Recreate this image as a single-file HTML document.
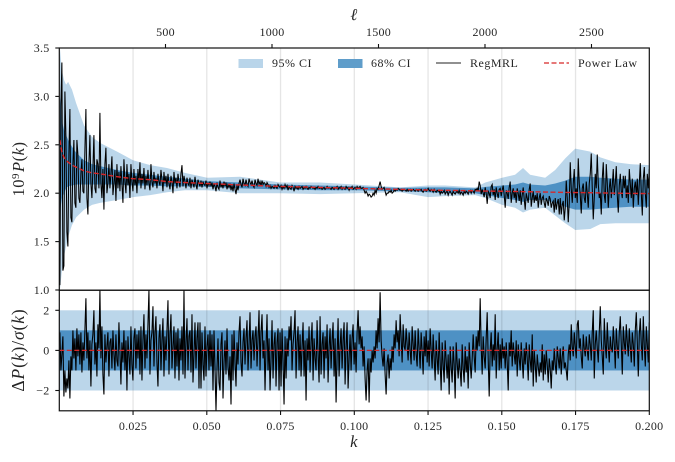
<!DOCTYPE html>
<html lang="en">
<head>
<meta charset="utf-8">
<title>Primordial power spectrum reconstruction</title>
<style>
html,body{margin:0;padding:0;background:#fff;}
svg{display:block;}
text{font-family:"Liberation Serif","DejaVu Serif",serif;fill:#262626;}
.tk{font-size:12px;letter-spacing:.25px;}
.lg{font-size:12px;letter-spacing:.5px;}
.ax{font-size:16.5px;letter-spacing:.5px;}
.ax2{font-size:17.5px;letter-spacing:.9px;}
.it{font-style:italic;}
</style>
</head>
<body>
<svg id="chart" width="675" height="462" viewBox="0 0 675 462" xmlns="http://www.w3.org/2000/svg">
  <defs>
    <clipPath id="clip-top"><rect x="59.3" y="48" width="590" height="242"></rect></clipPath>
    <clipPath id="clip-bot"><rect x="59.3" y="290.3" width="590" height="120.2"></rect></clipPath>
  </defs>
  <g id="top-panel" clip-path="url(#clip-top)"></g>
  <g id="bot-panel" clip-path="url(#clip-bot)"></g>
  <g id="axes"></g>

  <g>
    <rect x="238.5" y="59" width="24.5" height="9" fill="#b9d5ea"></rect>
    <text class="lg" x="272" y="67">95% CI</text>
    <rect x="338" y="59" width="24.5" height="9" fill="#5f9dca"></rect>
    <text class="lg" x="371" y="67">68% CI</text>
    <line x1="436" y1="63" x2="461" y2="63" stroke="#222" stroke-width="1"></line>
    <text class="lg" x="470" y="67">RegMRL</text>
    <line x1="544" y1="63" x2="569" y2="63" stroke="#d62728" stroke-width="1.3" stroke-dasharray="5 2.5"></line>
    <text class="lg" x="578" y="67">Power Law</text>
  </g>

  <text class="ax it" x="354" y="20" text-anchor="middle">ℓ</text>
  <text class="ax it" x="354" y="447" text-anchor="middle">k</text>
  <text class="ax" transform="translate(24,169) rotate(-90)" text-anchor="middle">10<tspan font-size="11" dy="-5">9</tspan><tspan class="it" dy="5" dx="1">P</tspan>(<tspan class="it">k</tspan>)</text>
  <text class="ax2" transform="translate(24,350) rotate(-90)" text-anchor="middle">Δ<tspan class="it">P</tspan>(<tspan class="it">k</tspan>)/<tspan class="it">σ</tspan>(<tspan class="it">k</tspan>)</text>
</svg>

<script>
// Tick labels
const kTicks = [0.025, 0.050, 0.075, 0.100, 0.125, 0.150, 0.175, 0.200];
const ellTicks = [500, 1000, 1500, 2000, 2500];
const powerTicks = [1.0, 1.5, 2.0, 2.5, 3.0, 3.5];
const residualTicks = [-2, 0, 2];

// Confidence bands
const bandK = [0.0002,0.0009,0.0016,0.0023,0.0030,0.0043,0.0057,0.0084,0.0111,0.0138,0.0196,0.0250,0.0308,0.0365,0.0426,0.0501,0.0613,0.0749,0.0884,0.1003,0.1155,0.1250,0.1308,0.1410,0.1444,0.1501,0.1545,0.1572,0.1596,0.1647,0.1681,0.1715,0.1749,0.1800,0.1834,0.1885,0.1936,0.2000];
const upper95 = [3.5,3.27,3.17,3.12,3.15,3.07,2.93,2.70,2.58,2.52,2.43,2.34,2.29,2.26,2.21,2.16,2.17,2.11,2.11,2.09,2.06,2.08,2.08,2.06,2.11,2.16,2.19,2.26,2.19,2.16,2.24,2.36,2.46,2.43,2.37,2.32,2.30,2.29];
const lower95 = [1.0,1.2,1.35,1.45,1.55,1.67,1.75,1.83,1.88,1.90,1.93,1.96,1.98,2.01,2.03,2.03,2.0,2.0,1.99,2.0,2.01,1.96,1.97,1.98,1.95,1.88,1.85,1.80,1.83,1.85,1.77,1.69,1.62,1.63,1.68,1.69,1.69,1.69];
const upper68 = [3.0,2.75,2.65,2.6,2.55,2.48,2.42,2.34,2.3,2.28,2.24,2.21,2.19,2.17,2.15,2.125,2.11,2.09,2.08,2.07,2.055,2.06,2.06,2.05,2.065,2.08,2.09,2.11,2.09,2.08,2.1,2.13,2.17,2.17,2.16,2.15,2.14,2.14];
const lower68 = [1.8,1.95,2.0,2.05,2.07,2.08,2.09,2.09,2.09,2.09,2.09,2.08,2.08,2.07,2.07,2.065,2.05,2.04,2.03,2.03,2.02,2.01,2.0,2.0,1.98,1.95,1.93,1.91,1.93,1.93,1.9,1.86,1.83,1.83,1.84,1.85,1.86,1.86];
const powerLaw = [2.55,2.42,2.37,2.34,2.32,2.29,2.27,2.23,2.21,2.20,2.17,2.15,2.14,2.12,2.11,2.10,2.085,2.07,2.06,2.05,2.04,2.033,2.03,2.025,2.022,2.02,2.018,2.016,2.015,2.012,2.01,2.008,2.007,2.005,2.003,2.0,1.998,1.996];

// Residual reference lines and band limits
const residualBandOuter = 2;
const residualBandInner = 1;
const residualZero = 0;

// Evenly sampled k range for both reconstructed series
const kFirst = 0.0002;
const kLast = 0.2;

// RegMRL reconstructed spectrum
const regmrl = [
1.05,2.9,3.35,1.2,1.25,3.05,2.6,1.6,1.45,2.4,2.87,1.75,1.7,2.3,2.55,1.9,1.85,2.55,2.4,1.95,
1.9,2.2,2.35,2.02,2.0,2.45,2.87,1.95,1.78,2.3,2.6,2.1,1.95,2.25,2.6,2.05,2.0,2.35,2.3,2.05,
2.83,2.1,1.95,2.25,1.83,2.3,2.47,2.0,2.1,2.3,2.05,2.2,2.38,1.98,2.1,2.24,1.92,2.3,2.05,2.22,
2.02,2.28,2.1,1.9,2.35,2.12,2.0,2.3,2.08,2.2,1.95,2.3,2.12,2.02,2.25,2.08,2.18,2.0,2.25,2.1,
2.32,2.05,2.2,2.1,2.26,2.04,2.18,2.08,2.24,2.1,2.03,2.3,2.12,2.06,2.22,2.1,2.16,2.05,2.2,2.12,
2.08,2.24,2.14,2.02,2.22,2.1,2.18,2.06,2.2,2.1,2.04,2.18,2.12,2.0,2.22,2.1,2.16,2.05,2.2,2.12,
2.06,2.2,2.29,2.07,2.18,2.12,2.05,2.16,2.1,2.08,2.16,2.05,2.14,2.1,2.06,2.17,2.09,2.04,2.14,2.1,
2.07,2.13,2.06,2.12,2.09,2.08,2.13,2.05,2.11,2.08,2.12,2.07,2.11,2.04,2.1,2.07,2.02,2.11,2.06,2.04,
2.13,2.06,2.1,2.05,2.12,2.07,2.11,2.04,2.09,2.06,2.1,2.03,2.08,2.02,2.1,2.04,1.99,2.08,2.03,2.1,
2.14,2.09,2.06,2.15,2.1,2.08,2.14,2.09,2.07,2.15,2.11,2.09,2.13,2.08,2.06,2.14,2.1,2.08,2.15,2.09,
2.12,2.08,2.13,2.09,2.11,2.1,2.07,2.11,2.09,2.06,2.08,2.05,2.07,2.06,2.05,2.08,2.06,2.05,2.09,2.07,
2.06,2.08,2.04,2.07,2.05,2.09,2.06,2.08,2.03,2.07,2.05,2.04,2.08,2.06,2.02,2.07,2.05,2.06,2.04,2.07,
2.05,2.06,2.07,2.04,2.06,2.05,2.07,2.05,2.04,2.06,2.05,2.07,2.06,2.05,2.06,2.04,2.06,2.05,2.07,2.05,
2.05,2.06,2.04,2.05,2.06,2.04,2.05,2.07,2.05,2.06,2.05,2.04,2.06,2.05,2.04,2.06,2.05,2.07,2.04,2.06,
2.05,2.07,2.04,2.06,2.05,2.04,2.07,2.05,2.06,2.03,2.06,2.05,2.07,2.04,2.05,2.06,2.04,2.07,2.05,2.06,
2.07,2.05,2.05,2.06,2.03,2.0,2.02,2.0,1.97,1.99,1.98,1.96,1.97,2.0,1.98,2.03,2.0,2.05,2.04,2.08,
2.12,2.07,2.04,2.05,2.06,2.02,1.98,2.0,2.0,2.02,2.01,2.03,2.0,2.01,2.03,2.02,2.04,2.03,2.05,2.04,
2.03,2.04,2.02,2.03,2.04,2.03,2.02,2.04,2.02,2.03,2.04,2.02,2.03,2.04,2.03,2.02,2.04,2.03,2.02,2.04,
2.03,2.04,2.02,2.01,2.03,2.04,2.02,2.03,2.05,2.03,2.02,2.04,2.03,2.01,2.04,2.02,2.01,2.03,2.02,2.03,
1.99,2.02,2.0,2.01,2.03,1.99,2.01,2.02,1.98,2.01,2.02,2.0,1.98,2.02,2.0,1.99,2.01,2.02,2.0,2.03,
1.99,2.01,2.0,1.98,2.02,2.0,2.02,2.01,1.99,2.02,2.03,2.0,2.03,2.02,2.0,2.04,2.03,2.05,2.02,2.12,
2.08,1.99,2.04,2.0,1.96,2.06,2.0,1.89,2.02,2.0,1.95,2.07,2.09,1.98,2.04,1.93,2.06,2.0,1.95,2.04,
2.05,1.97,2.03,2.08,1.98,1.85,2.03,2.0,1.94,2.06,2.12,1.9,2.0,2.05,1.95,2.02,1.9,2.05,2.0,1.92,
2.03,1.88,1.98,2.06,1.94,1.83,2.0,1.95,1.9,2.04,2.1,1.86,1.95,2.02,1.9,1.98,1.92,2.0,1.85,1.95,
2.0,1.88,1.95,1.97,1.9,1.85,1.95,1.92,1.87,1.97,1.94,1.85,1.9,1.92,1.8,1.95,1.83,1.9,1.94,1.78,
1.95,1.78,1.88,1.92,1.72,1.85,2.13,1.95,1.7,1.9,2.32,2.05,1.9,2.1,2.25,1.95,2.05,1.9,2.36,2.1,
1.98,1.79,2.05,2.1,1.95,1.9,2.12,2.0,1.85,2.1,2.2,2.41,2.05,1.73,1.95,2.2,2.05,2.4,2.1,1.95,
2.0,1.78,2.15,2.32,1.98,1.9,2.3,2.1,1.85,2.05,2.15,1.95,2.08,2.25,1.98,2.1,2.28,1.98,1.8,2.08,
2.2,2.02,1.95,2.18,2.05,2.18,1.95,2.08,1.9,2.25,2.1,1.95,2.15,1.85,2.05,2.12,1.98,2.15,1.88,2.1,
2.31,2.0,1.77,2.15,2.27,2.0,1.85,2.2,2.05,2.25
];

// Normalised residuals
const residuals = [
0.9,-1.0,-0.2,0.7,-2.3,-1.0,-2.1,-1.4,-1.9,-0.5,-2.4,-0.3,-1.0,1.0,-0.4,0.6,-1.0,1.1,-0.3,0.8,
-0.7,0.9,-1.1,0.4,-0.5,1.0,2.6,-0.4,0.9,-1.0,0.5,-1.8,0.3,0.8,2.0,-0.7,0.4,-1.3,1.3,0.1,
3.0,-0.4,1.2,-1.2,-2.2,0.8,-0.6,0.2,0.9,-1.3,0.4,0.6,-0.9,1.0,-0.2,-1.0,0.8,-0.5,-0.8,1.4,
-0.1,-1.7,0.4,-0.6,1.0,-1.0,0.5,-2.0,0.7,-0.3,-1.2,1.2,-0.7,-1.5,0.6,1.1,-0.9,0.8,-0.4,1.0,
-1.2,1.2,-1.5,0.5,1.8,-0.9,0.8,-0.4,1.3,3.0,-1.2,0.5,0.9,2.2,-0.8,0.9,1.7,-0.6,-1.8,0.6,
1.3,-1.0,0.5,1.6,-1.3,0.7,-0.5,1.0,2.5,-1.2,0.8,1.8,-0.9,0.2,1.2,-1.4,0.9,-0.8,1.1,-1.5,
0.6,-0.5,1.2,-1.2,3.0,-1.4,0.4,1.6,-1.0,0.7,1.0,-1.1,1.8,-1.6,-0.2,1.4,-0.9,0.6,1.4,-1.9,
1.4,-1.9,0.9,-0.7,-1.5,1.2,-1.3,0.2,0.8,-1.0,1.0,-0.8,0.8,-2.0,1.0,-0.9,-3.0,-0.9,0.6,-1.6,
-2.0,0.3,0.9,-2.4,-0.6,0.5,-1.2,1.1,-0.8,-1.5,-0.3,-2.7,0.8,-1.5,1.0,-0.6,-1.8,0.4,-0.7,0.9,
1.7,-0.6,-1.3,0.4,1.1,-0.7,0.6,1.5,-1.0,0.3,1.9,-0.9,0.5,1.0,-0.5,0.7,1.2,-0.8,0.6,2.0,
-1.0,0.9,1.8,-0.4,0.5,-2.0,0.2,1.8,-1.0,0.6,-2.0,-0.4,1.5,-1.4,0.3,0.9,-1.8,0.4,1.1,-2.0,
0.9,-1.8,1.1,-0.6,-2.7,0.7,-1.4,0.6,-0.3,1.2,0.5,1.7,-1.0,0.3,0.9,2.0,-1.4,0.4,1.2,-1.0,
0.8,-1.3,0.2,1.4,-1.3,0.5,-2.5,0.6,-0.5,1.2,-1.1,0.4,1.4,-1.5,0.6,-0.4,-1.0,1.5,-0.2,-1.6,
1.7,-1.2,0.3,0.9,-1.4,0.7,-0.4,1.3,-1.6,0.2,1.1,-0.9,0.5,1.4,-1.3,0.6,-2.6,-0.3,1.6,-1.3,
0.2,1.1,-0.9,0.5,1.4,-1.7,0.2,1.4,-1.9,-0.4,0.8,-1.0,0.6,1.3,-0.7,0.4,-1.1,0.9,2.0,0.3,
1.2,0.1,0.7,-0.8,0.2,-1.4,-2.5,-1.0,-0.4,-2.6,-0.4,-1.1,0.0,-0.6,0.2,-0.4,1.0,0.1,1.6,0.4,
2.9,0.5,-0.3,-0.8,0.1,-1.2,-2.2,-0.6,-0.2,-1.4,-0.4,-1.0,0.2,-0.6,0.8,0.1,1.5,0.4,1.0,-0.3,
1.8,0.6,-0.6,1.3,0.2,0.0,1.1,0.3,-0.5,0.9,0.0,-0.7,1.2,0.3,-0.5,1.0,-0.2,-0.8,1.1,0.1,
-0.9,0.9,0.0,-1.2,0.7,-0.3,1.0,-0.6,0.5,-0.8,1.1,0.0,-0.9,0.8,-0.4,-1.5,0.5,-0.4,-1.2,0.9,
-0.6,-2.0,0.4,-0.7,-1.6,0.5,-0.5,-1.4,-0.2,-2.2,0.2,-0.8,-1.6,0.2,-0.7,-2.4,0.4,-0.6,-1.4,-0.4,
-1.0,-1.8,0.3,-0.9,-1.6,0.2,-1.1,-0.3,-1.9,0.4,-0.6,-1.4,-0.4,0.8,-0.3,-1.1,0.7,0.0,1.0,0.2,
2.6,0.2,-1.2,0.7,-0.3,-0.9,0.6,1.9,-0.4,-2.3,0.0,0.9,-0.8,0.3,-0.5,1.8,-1.4,0.1,0.9,-1.0,
0.3,-0.9,0.6,-0.4,0.2,-0.9,0.4,-0.6,-2.0,0.4,-0.3,1.0,-0.8,0.4,-0.2,-0.7,0.5,-1.3,0.3,-0.4,
-1.0,0.4,-0.5,-1.4,0.1,-0.7,0.4,-0.4,-1.5,0.3,-0.5,-1.1,0.8,-1.8,0.0,-0.7,-1.6,-0.2,-0.8,-1.3,
-0.6,-1.1,0.3,-1.5,-0.2,-1.2,0.0,-0.7,-1.6,-0.4,-0.9,-1.9,-0.5,-1.0,0.1,-0.7,-1.2,0.2,-0.4,-0.9,
0.1,-1.2,-0.3,0.2,-0.9,-0.6,-1.0,-1.5,-0.2,0.3,-0.5,1.3,0.2,-0.3,0.9,0.2,-0.4,1.3,1.5,0.1,
0.6,-0.3,-0.9,0.8,0.1,-0.3,0.7,0.0,-0.5,0.8,0.3,-0.5,0.9,2.0,-1.4,0.3,1.0,0.1,-0.6,0.9,
2.2,0.5,-0.3,-1.2,1.6,0.3,-0.4,1.4,0.2,-0.6,0.7,0.1,-0.1,1.2,0.3,-0.9,1.1,0.2,-0.4,0.9,
1.7,0.3,-1.2,1.2,0.4,-0.2,1.3,0.4,-0.3,1.1,0.2,-0.6,0.9,0.3,-0.8,1.0,1.9,0.4,-1.3,0.8,
1.6,0.3,-0.5,1.7,0.2,-0.8,1.2,0.3,-0.6,1.4
];

const NS = 'http://www.w3.org/2000/svg';
const x0 = 59.3, x1 = 649.3;

function xK(k) { return x0 + (k / 0.2) * (x1 - x0); }
function xEll(l) { return 59 + (l / 2770) * 590; }
function yTop(v) { return 48 + (3.5 - v) * (242 / 2.5); }
function yBot(v) { return 350.4 - v * 20.05; }

function make(tag, attrs, parent) {
  const el = document.createElementNS(NS, tag);
  for (const key in attrs) el.setAttribute(key, attrs[key]);
  parent.appendChild(el);
  return el;
}
function linePath(xs, ys, xf, yf) {
  return xs.map(function (x, i) { return (i ? 'L' : 'M') + xf(x).toFixed(2) + ' ' + yf(ys[i]).toFixed(2); }).join('');
}
function areaPath(xs, up, lo, xf, yf) {
  const a = xs.map(function (x, i) { return xf(x).toFixed(2) + ' ' + yf(up[i]).toFixed(2); });
  const b = xs.map(function (x, i) { return xf(x).toFixed(2) + ' ' + yf(lo[i]).toFixed(2); }).reverse();
  return 'M' + a.join('L') + 'L' + b.join('L') + 'Z';
}

const topPanel = document.getElementById('top-panel');
const botPanel = document.getElementById('bot-panel');
const axes = document.getElementById('axes');

const seriesK = regmrl.map(function (_, i) { return kFirst + i * (kLast - kFirst) / (regmrl.length - 1); });
const residualK = residuals.map(function (_, i) { return kFirst + i * (kLast - kFirst) / (residuals.length - 1); });

/* top panel */
const band95 = make('path', { d: areaPath(bandK, upper95, lower95, xK, yTop), fill: '#bbd6ea' }, topPanel);


const band68 = make('path', { d: areaPath(bandK, upper68, lower68, xK, yTop), fill: '#4e91c4' }, topPanel);



/* bottom panel bands */
const resBand95 = make('rect', { x: x0, y: yBot(residualBandOuter), width: x1 - x0, height: yBot(-residualBandOuter) - yBot(residualBandOuter), fill: '#bbd6ea' }, botPanel);


const resBand68 = make('rect', { x: x0, y: yBot(residualBandInner), width: x1 - x0, height: yBot(-residualBandInner) - yBot(residualBandInner), fill: '#4e91c4' }, botPanel);



/* vertical grid lines */
kTicks.forEach(function (k) {
  if (k >= 0.2) return;
  const g1 = make('line', { x1: xK(k), x2: xK(k), y1: 48, y2: 290, stroke: 'rgba(0,0,0,.1)', 'stroke-width': 1.3 }, topPanel);
  
  
  const g2 = make('line', { x1: xK(k), x2: xK(k), y1: 290, y2: 411, stroke: 'rgba(0,0,0,.1)', 'stroke-width': 1.3 }, botPanel);
  
  
});

/* series */
const regLine = make('path', { d: linePath(seriesK, regmrl, xK, yTop), fill: 'none', stroke: '#000', 'stroke-width': 1.05, 'stroke-linejoin': 'miter' }, topPanel);


const plLine = make('path', { d: linePath(bandK, powerLaw, xK, yTop), fill: 'none', stroke: '#d62728', 'stroke-width': 1.4, 'stroke-dasharray': '5 2.5' }, topPanel);



const resLine = make('path', { d: linePath(residualK, residuals, xK, yBot), fill: 'none', stroke: '#000', 'stroke-width': 1.1 }, botPanel);


const zeroLine = make('line', { x1: x0, x2: x1, y1: yBot(residualZero), y2: yBot(residualZero), stroke: '#d62728', 'stroke-width': 1.2, 'stroke-dasharray': '5 2.5' }, botPanel);



/* spines */
const spineTop = make('rect', { x: x0, y: 48, width: x1 - x0, height: 242.2, fill: 'none', stroke: '#111', 'stroke-width': 1.2 }, axes);


const spineBot = make('rect', { x: x0, y: 290.2, width: x1 - x0, height: 120.6, fill: 'none', stroke: '#111', 'stroke-width': 1.2 }, axes);



/* ticks */
kTicks.forEach(function (k) {
  const t = make('line', { x1: xK(k), x2: xK(k), y1: 411, y2: 415, stroke: '#111', 'stroke-width': 1.1 }, axes);
  
  
  const l = make('text', { x: xK(k), y: 430, 'text-anchor': 'middle', 'class': 'tk' }, axes);
  
  
  l.textContent = k.toFixed(3);
});
ellTicks.forEach(function (v) {
  const t = make('line', { x1: xEll(v), x2: xEll(v), y1: 48, y2: 44, stroke: '#111', 'stroke-width': 1.1 }, axes);
  
  
  const l = make('text', { x: xEll(v), y: 36, 'text-anchor': 'middle', 'class': 'tk' }, axes);
  
  
  l.textContent = String(v);
});
powerTicks.forEach(function (v) {
  const t = make('line', { x1: 59.3, x2: 55.3, y1: yTop(v), y2: yTop(v), stroke: '#111', 'stroke-width': 1.1 }, axes);
  
  
  const l = make('text', { x: 49.5, y: yTop(v) + 4, 'text-anchor': 'end', 'class': 'tk' }, axes);
  
  
  l.textContent = v.toFixed(1);
});
residualTicks.forEach(function (v) {
  const t = make('line', { x1: 59.3, x2: 55.3, y1: yBot(v), y2: yBot(v), stroke: '#111', 'stroke-width': 1.1 }, axes);
  
  
  const l = make('text', { x: 49.5, y: yBot(v) + 4, 'text-anchor': 'end', 'class': 'tk' }, axes);
  
  
  l.textContent = v < 0 ? '\u2212' + Math.abs(v) : String(v);
});
</script>
</body>
</html>
